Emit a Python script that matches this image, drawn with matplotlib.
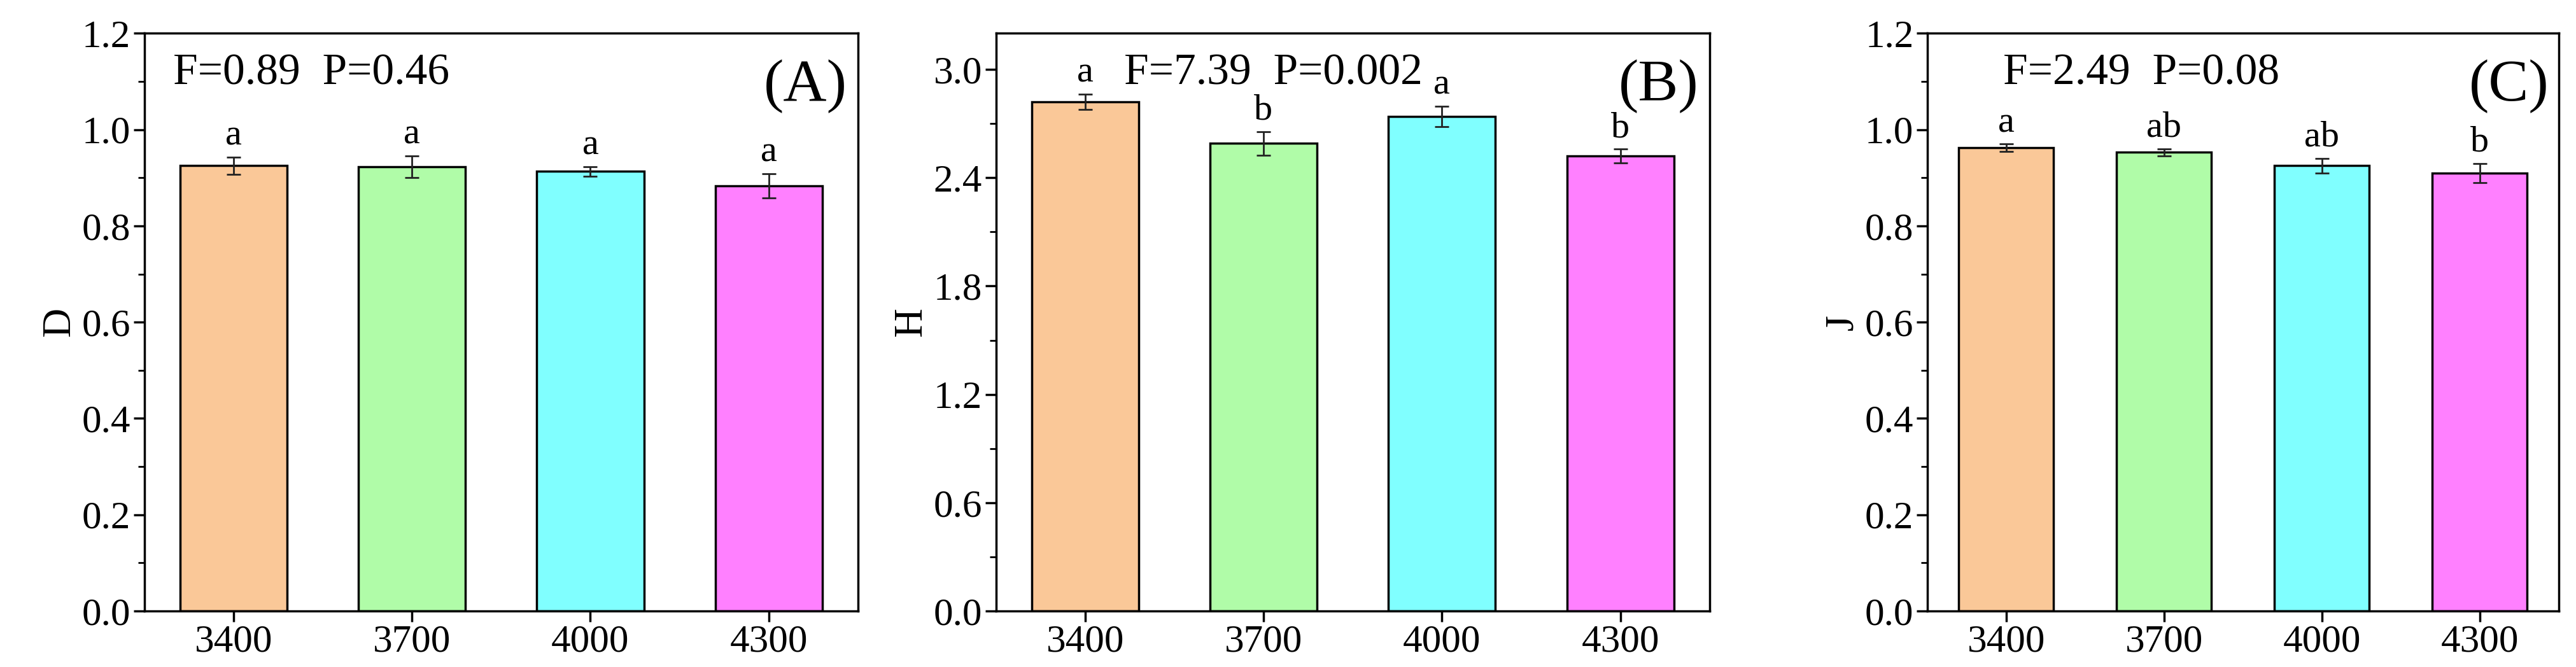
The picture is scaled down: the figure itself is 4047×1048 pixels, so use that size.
import matplotlib
matplotlib.use("Agg")
import matplotlib.pyplot as plt
from matplotlib.ticker import MultipleLocator, AutoMinorLocator

plt.rcParams['font.family'] = ['Liberation Serif', 'DejaVu Serif']

categories = ['3400', '3700', '4000', '4300']
colors = ['#FAC898', '#B0FCA8', '#80FFFF', '#FF80FF']

D_vals = [0.925, 0.923, 0.913, 0.883]
D_err = [0.018, 0.023, 0.010, 0.025]
D_letters = ['a', 'a', 'a', 'a']

H_vals = [2.82, 2.59, 2.74, 2.52]
H_err = [0.043, 0.065, 0.057, 0.038]
H_letters = ['a', 'b', 'a', 'b']

J_vals = [0.962, 0.953, 0.925, 0.910]
J_err = [0.008, 0.007, 0.015, 0.020]
J_letters = ['a', 'ab', 'ab', 'b']

panels = [
    dict(v=D_vals, e=D_err, l=D_letters, yl='D', ylim=1.2, step=0.2, fmt='{:.1f}',
         stat='F=0.89  P=0.46', sx=0.04, tag='(A)', rect=[0.056, 0.084, 0.277, 0.866]),
    dict(v=H_vals, e=H_err, l=H_letters, yl='H', ylim=3.2, step=0.6, fmt='{:.1f}',
         stat='F=7.39  P=0.002', sx=0.18, tag='(B)', rect=[0.3865, 0.084, 0.277, 0.866]),
    dict(v=J_vals, e=J_err, l=J_letters, yl='J', ylim=1.2, step=0.2, fmt='{:.1f}',
         stat='F=2.49  P=0.08', sx=0.12, tag='(C)', rect=[0.748, 0.084, 0.245, 0.866]),
]

fig = plt.figure(figsize=(40.48, 10.48), dpi=100)
for p in panels:
    ax = fig.add_axes(p['rect'])
    x = range(len(categories))
    ax.bar(x, p['v'], width=0.6, color=colors, edgecolor='black', linewidth=2.5,
           yerr=p['e'], capsize=8, error_kw=dict(elinewidth=2, capthick=2, ecolor='#222222'))
    for i, (v, e, l) in enumerate(zip(p['v'], p['e'], p['l'])):
        ax.text(i, v + e + p['ylim'] * 0.008, l, ha='center', va='bottom', fontsize=42)
    ax.set_xlim(-0.5, 3.5)
    ax.set_ylim(0, p['ylim'])
    ax.yaxis.set_major_locator(MultipleLocator(p['step']))
    ax.yaxis.set_minor_locator(AutoMinorLocator(2))
    ax.set_yticklabels([p['fmt'].format(t) for t in ax.get_yticks()])
    ax.set_xticks(list(x))
    ax.set_xticklabels(categories)
    ax.tick_params(axis='both', labelsize=44, width=2.5, length=12, direction='out')
    ax.tick_params(axis='y', which='minor', width=2, length=7)
    ax.tick_params(axis='x', which='minor', bottom=False)
    for s in ax.spines.values():
        s.set_linewidth(2.5)
    ax.set_ylabel(p['yl'], fontsize=46)
    ax.text(p['sx'], 0.965, p['stat'], transform=ax.transAxes, ha='left', va='top', fontsize=50)
    ax.text(0.985, 0.955, p['tag'], transform=ax.transAxes, ha='right', va='top', fontsize=68)

fig.savefig('out.png', dpi=100)
